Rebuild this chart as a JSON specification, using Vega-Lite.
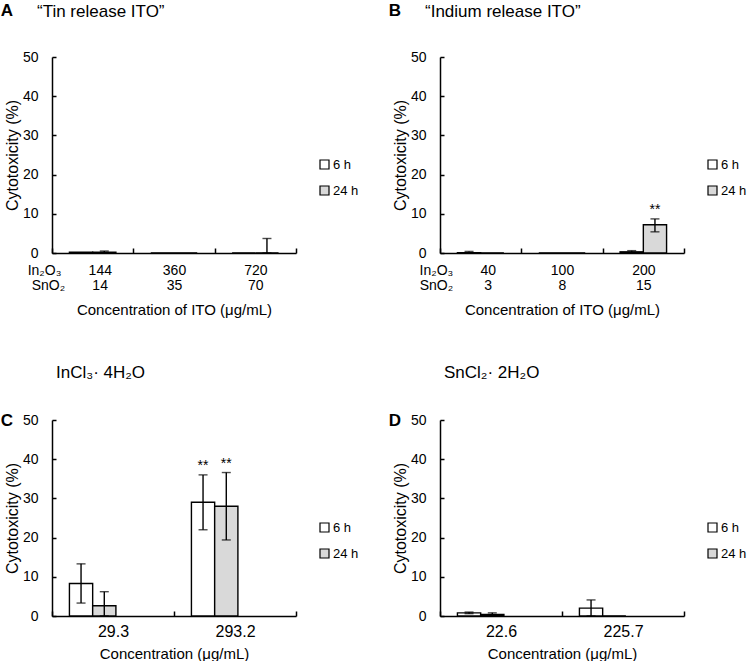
{
  "$schema": "https://vega.github.io/schema/vega-lite/v6.json",
  "background": "white",
  "padding": {"left": 0, "top": 2, "right": 0, "bottom": 0},
  "config": {
    "font": "Liberation Sans",
    "view": {"stroke": null},
    "axis": {"domainColor": "black", "domainWidth": 1.5, "tickColor": "black", "tickWidth": 1.5, "labelColor": "black", "titleColor": "black", "labelFont": "Liberation Sans", "titleFont": "Liberation Sans", "labelFontSize": 14, "titleFontSize": 15, "titleFontWeight": "normal", "grid": false},
    "axisY": {"tickSize": -4, "labelPadding": 18, "titlePadding": 2, "titleFontSize": 16, "labelOverlap": false},
    "title": {"font": "Liberation Sans", "fontSize": 17, "fontWeight": "normal", "color": "black"},
    "legend": {"labelFont": "Liberation Sans", "labelFontSize": 13, "labelColor": "black"}
  },
  "datasets": {
    "a": [
      {"conc": "144|14", "time": "6 h", "value": 0.2},
      {"conc": "144|14", "time": "24 h", "value": 0.2, "lo": 0.1, "hi": 0.5},
      {"conc": "360|35", "time": "6 h", "value": 0},
      {"conc": "360|35", "time": "24 h", "value": 0},
      {"conc": "720|70", "time": "6 h", "value": 0},
      {"conc": "720|70", "time": "24 h", "value": 0, "lo": 0, "hi": 3.7}
    ],
    "b": [
      {"conc": "40|3", "time": "6 h", "value": 0.1, "lo": 0.0, "hi": 0.4},
      {"conc": "40|3", "time": "24 h", "value": 0},
      {"conc": "100|8", "time": "6 h", "value": 0},
      {"conc": "100|8", "time": "24 h", "value": 0},
      {"conc": "200|15", "time": "6 h", "value": 0.3, "lo": 0.1, "hi": 0.6},
      {"conc": "200|15", "time": "24 h", "value": 7.2, "lo": 5.4, "hi": 8.7, "sig": "**"}
    ],
    "c": [
      {"conc": "29.3", "time": "6 h", "value": 8.3, "lo": 3.3, "hi": 13.3},
      {"conc": "29.3", "time": "24 h", "value": 2.6, "lo": 0, "hi": 6.2},
      {"conc": "293.2", "time": "6 h", "value": 29.0, "lo": 22.0, "hi": 36.0, "sig": "**"},
      {"conc": "293.2", "time": "24 h", "value": 28.0, "lo": 19.4, "hi": 36.6, "sig": "**"}
    ],
    "d": [
      {"conc": "22.6", "time": "6 h", "value": 0.8, "lo": 0.6, "hi": 1.0},
      {"conc": "22.6", "time": "24 h", "value": 0.4, "lo": 0.1, "hi": 0.8},
      {"conc": "225.7", "time": "6 h", "value": 2.0, "lo": 0, "hi": 4.1},
      {"conc": "225.7", "time": "24 h", "value": 0}
    ]
  },
  "spacing": 47,
  "resolve": {"legend": {"fill": "independent"}},
  "vconcat": [
    {
      "spacing": 29,
      "resolve": {"legend": {"fill": "independent"}},
      "hconcat": [
        {
          "title": {"text": "A", "orient": "left", "angle": 0, "anchor": "end", "fontWeight": "bold", "fontSize": 17, "offset": -21},
          "resolve": {"legend": {"fill": "independent"}},
          "vconcat": [
            {
              "title": {"text": "“Tin release ITO”", "anchor": "start", "frame": "group", "dx": -15, "offset": 29},
              "width": 244, "height": 196,
              "data": {"name": "a"},
              "encoding": {
                "x": {"field": "conc", "type": "nominal", "sort": null, "scale": {"paddingInner": 0, "paddingOuter": 0},
                  "axis": {"title": "Concentration of ITO (μg/mL)", "labelAngle": 0, "tickBand": "extent", "tickSize": -5, "labelPadding": 15, "labelOverlap": false, "labelBound": false, "labelFlush": false, "labelLineHeight": 15, "titlePadding": 10,
                    "labelExpr": "datum.index == 0 ? ['In₂O₃\u00a0\u00a0\u00a0\u00a0\u00a0\u00a0\u00a0' + split(datum.label,'|')[0] + '\u00a0\u00a0\u00a0\u00a0\u00a0\u00a0\u00a0\u00a0\u00a0\u00a0\u00a0\u00a0\u200b', 'SnO₂\u00a0\u00a0\u00a0\u00a0\u00a0\u00a0\u00a0' + split(datum.label,'|')[1] + '\u00a0\u00a0\u00a0\u00a0\u00a0\u00a0\u00a0\u00a0\u00a0\u00a0\u00a0\u00a0\u200b'] : split(datum.label,'|')"}},
                "xOffset": {"field": "time", "type": "nominal", "sort": ["6 h", "24 h"], "scale": {"domain": ["6 h", "24 h"], "paddingInner": 0, "paddingOuter": 0.75}}
              },
              "layer": [
                {"mark": {"type": "bar", "stroke": "black", "strokeWidth": 1.4},
                 "encoding": {
                   "y": {"field": "value", "type": "quantitative", "title": "Cytotoxicity (%)", "scale": {"domain": [0, 50], "nice": false}, "axis": {"values": [0, 10, 20, 30, 40, 50]}},
                   "fill": {"field": "time", "type": "nominal", "scale": {"domain": ["6 h", "24 h"], "range": ["white", "#d9d9d9"]},
                     "legend": {"title": null, "orient": "none", "legendX": 266, "legendY": 101, "symbolType": "square", "symbolSize": 81, "symbolStrokeColor": "black", "symbolStrokeWidth": 1.2, "rowPadding": 11, "labelOffset": 2, "padding": 0}}
                 }},
                {"transform": [{"filter": "isValid(datum.hi)"}], "mark": {"type": "rule", "color": "black", "strokeWidth": 1.4},
                 "encoding": {"y": {"field": "lo", "type": "quantitative", "title": "Cytotoxicity (%)", "axis": {"values": [0, 10, 20, 30, 40, 50]}}, "y2": {"field": "hi"}}},
                {"transform": [{"filter": "isValid(datum.hi)"}], "mark": {"type": "tick", "color": "black", "size": 9, "thickness": 1.4},
                 "encoding": {"y": {"field": "hi", "type": "quantitative", "title": "Cytotoxicity (%)", "axis": {"values": [0, 10, 20, 30, 40, 50]}}}},
                {"transform": [{"filter": "isValid(datum.hi)"}], "mark": {"type": "tick", "color": "black", "size": 9, "thickness": 1.4},
                 "encoding": {"y": {"field": "lo", "type": "quantitative", "title": "Cytotoxicity (%)", "axis": {"values": [0, 10, 20, 30, 40, 50]}}}},
                {"transform": [{"filter": "isValid(datum.sig)"}], "mark": {"type": "text", "baseline": "bottom", "dy": -2, "fontSize": 14, "color": "black"},
                 "encoding": {"y": {"field": "hi", "type": "quantitative", "title": "Cytotoxicity (%)", "axis": {"values": [0, 10, 20, 30, 40, 50]}}, "text": {"field": "sig"}}}
              ]
            }
          ]
        },
        {
          "title": {"text": "B", "orient": "left", "angle": 0, "anchor": "end", "fontWeight": "bold", "fontSize": 17, "offset": -21},
          "resolve": {"legend": {"fill": "independent"}},
          "vconcat": [
            {
              "title": {"text": "“Indium release ITO”", "anchor": "start", "frame": "group", "dx": -15, "offset": 29},
              "width": 244, "height": 196,
              "data": {"name": "b"},
              "encoding": {
                "x": {"field": "conc", "type": "nominal", "sort": null, "scale": {"paddingInner": 0, "paddingOuter": 0},
                  "axis": {"title": "Concentration of ITO (μg/mL)", "labelAngle": 0, "tickBand": "extent", "tickSize": -5, "labelPadding": 15, "labelOverlap": false, "labelBound": false, "labelFlush": false, "labelLineHeight": 15, "titlePadding": 10,
                    "labelExpr": "datum.index == 0 ? ['In₂O₃\u00a0\u00a0\u00a0\u00a0\u00a0\u00a0\u00a0' + split(datum.label,'|')[0] + '\u00a0\u00a0\u00a0\u00a0\u00a0\u00a0\u00a0\u00a0\u00a0\u00a0\u00a0\u00a0\u200b', 'SnO₂\u00a0\u00a0\u00a0\u00a0\u00a0\u00a0\u00a0\u00a0' + split(datum.label,'|')[1] + '\u00a0\u00a0\u00a0\u00a0\u00a0\u00a0\u00a0\u00a0\u00a0\u00a0\u00a0\u00a0\u00a0\u200b'] : split(datum.label,'|')"}},
                "xOffset": {"field": "time", "type": "nominal", "sort": ["6 h", "24 h"], "scale": {"domain": ["6 h", "24 h"], "paddingInner": 0, "paddingOuter": 0.75}}
              },
              "layer": [
                {"mark": {"type": "bar", "stroke": "black", "strokeWidth": 1.4},
                 "encoding": {
                   "y": {"field": "value", "type": "quantitative", "title": "Cytotoxicity (%)", "scale": {"domain": [0, 50], "nice": false}, "axis": {"values": [0, 10, 20, 30, 40, 50]}},
                   "fill": {"field": "time", "type": "nominal", "scale": {"domain": ["6 h", "24 h"], "range": ["white", "#d9d9d9"]},
                     "legend": {"title": null, "orient": "none", "legendX": 266, "legendY": 101, "symbolType": "square", "symbolSize": 81, "symbolStrokeColor": "black", "symbolStrokeWidth": 1.2, "rowPadding": 11, "labelOffset": 2, "padding": 0}}
                 }},
                {"transform": [{"filter": "isValid(datum.hi)"}], "mark": {"type": "rule", "color": "black", "strokeWidth": 1.4},
                 "encoding": {"y": {"field": "lo", "type": "quantitative", "title": "Cytotoxicity (%)", "axis": {"values": [0, 10, 20, 30, 40, 50]}}, "y2": {"field": "hi"}}},
                {"transform": [{"filter": "isValid(datum.hi)"}], "mark": {"type": "tick", "color": "black", "size": 9, "thickness": 1.4},
                 "encoding": {"y": {"field": "hi", "type": "quantitative", "title": "Cytotoxicity (%)", "axis": {"values": [0, 10, 20, 30, 40, 50]}}}},
                {"transform": [{"filter": "isValid(datum.hi)"}], "mark": {"type": "tick", "color": "black", "size": 9, "thickness": 1.4},
                 "encoding": {"y": {"field": "lo", "type": "quantitative", "title": "Cytotoxicity (%)", "axis": {"values": [0, 10, 20, 30, 40, 50]}}}},
                {"transform": [{"filter": "isValid(datum.sig)"}], "mark": {"type": "text", "baseline": "bottom", "dy": -2, "fontSize": 14, "color": "black"},
                 "encoding": {"y": {"field": "hi", "type": "quantitative", "title": "Cytotoxicity (%)", "axis": {"values": [0, 10, 20, 30, 40, 50]}}, "text": {"field": "sig"}}}
              ]
            }
          ]
        }
      ]
    },
    {
      "spacing": 29,
      "resolve": {"legend": {"fill": "independent"}},
      "hconcat": [
        {
          "title": {"text": "InCl₃· 4H₂O", "anchor": "start", "frame": "group", "dx": 4, "offset": 30},
          "resolve": {"legend": {"fill": "independent"}},
          "vconcat": [
            {
              "title": {"text": "C", "orient": "left", "angle": 0, "anchor": "end", "fontWeight": "bold", "fontSize": 17, "offset": -21},
              "width": 244, "height": 196,
              "data": {"name": "c"},
              "encoding": {
                "x": {"field": "conc", "type": "nominal", "sort": null, "scale": {"paddingInner": 0, "paddingOuter": 0},
                  "axis": {"title": "Concentration (μg/mL)", "labelAngle": 0, "tickBand": "extent", "tickSize": -5, "labelPadding": 12, "labelOverlap": false, "labelFontSize": 16, "titlePadding": 7}},
                "xOffset": {"field": "time", "type": "nominal", "sort": ["6 h", "24 h"], "scale": {"domain": ["6 h", "24 h"], "paddingInner": 0, "paddingOuter": 0.75}}
              },
              "layer": [
                {"mark": {"type": "bar", "stroke": "black", "strokeWidth": 1.4},
                 "encoding": {
                   "y": {"field": "value", "type": "quantitative", "title": "Cytotoxicity (%)", "scale": {"domain": [0, 50], "nice": false}, "axis": {"values": [0, 10, 20, 30, 40, 50]}},
                   "fill": {"field": "time", "type": "nominal", "scale": {"domain": ["6 h", "24 h"], "range": ["white", "#d9d9d9"]},
                     "legend": {"title": null, "orient": "none", "legendX": 266, "legendY": 101, "symbolType": "square", "symbolSize": 81, "symbolStrokeColor": "black", "symbolStrokeWidth": 1.2, "rowPadding": 11, "labelOffset": 2, "padding": 0}}
                 }},
                {"transform": [{"filter": "isValid(datum.hi)"}], "mark": {"type": "rule", "color": "black", "strokeWidth": 1.4},
                 "encoding": {"y": {"field": "lo", "type": "quantitative", "title": "Cytotoxicity (%)", "axis": {"values": [0, 10, 20, 30, 40, 50]}}, "y2": {"field": "hi"}}},
                {"transform": [{"filter": "isValid(datum.hi)"}], "mark": {"type": "tick", "color": "black", "size": 9, "thickness": 1.4},
                 "encoding": {"y": {"field": "hi", "type": "quantitative", "title": "Cytotoxicity (%)", "axis": {"values": [0, 10, 20, 30, 40, 50]}}}},
                {"transform": [{"filter": "isValid(datum.hi)"}], "mark": {"type": "tick", "color": "black", "size": 9, "thickness": 1.4},
                 "encoding": {"y": {"field": "lo", "type": "quantitative", "title": "Cytotoxicity (%)", "axis": {"values": [0, 10, 20, 30, 40, 50]}}}},
                {"transform": [{"filter": "isValid(datum.sig)"}], "mark": {"type": "text", "baseline": "bottom", "dy": -2, "fontSize": 14, "color": "black"},
                 "encoding": {"y": {"field": "hi", "type": "quantitative", "title": "Cytotoxicity (%)", "axis": {"values": [0, 10, 20, 30, 40, 50]}}, "text": {"field": "sig"}}}
              ]
            }
          ]
        },
        {
          "title": {"text": "SnCl₂· 2H₂O", "anchor": "start", "frame": "group", "dx": 4, "offset": 30},
          "resolve": {"legend": {"fill": "independent"}},
          "vconcat": [
            {
              "title": {"text": "D", "orient": "left", "angle": 0, "anchor": "end", "fontWeight": "bold", "fontSize": 17, "offset": -21},
              "width": 244, "height": 196,
              "data": {"name": "d"},
              "encoding": {
                "x": {"field": "conc", "type": "nominal", "sort": null, "scale": {"paddingInner": 0, "paddingOuter": 0},
                  "axis": {"title": "Concentration (μg/mL)", "labelAngle": 0, "tickBand": "extent", "tickSize": -5, "labelPadding": 12, "labelOverlap": false, "labelFontSize": 16, "titlePadding": 7}},
                "xOffset": {"field": "time", "type": "nominal", "sort": ["6 h", "24 h"], "scale": {"domain": ["6 h", "24 h"], "paddingInner": 0, "paddingOuter": 0.75}}
              },
              "layer": [
                {"mark": {"type": "bar", "stroke": "black", "strokeWidth": 1.4},
                 "encoding": {
                   "y": {"field": "value", "type": "quantitative", "title": "Cytotoxicity (%)", "scale": {"domain": [0, 50], "nice": false}, "axis": {"values": [0, 10, 20, 30, 40, 50]}},
                   "fill": {"field": "time", "type": "nominal", "scale": {"domain": ["6 h", "24 h"], "range": ["white", "#d9d9d9"]},
                     "legend": {"title": null, "orient": "none", "legendX": 266, "legendY": 101, "symbolType": "square", "symbolSize": 81, "symbolStrokeColor": "black", "symbolStrokeWidth": 1.2, "rowPadding": 11, "labelOffset": 2, "padding": 0}}
                 }},
                {"transform": [{"filter": "isValid(datum.hi)"}], "mark": {"type": "rule", "color": "black", "strokeWidth": 1.4},
                 "encoding": {"y": {"field": "lo", "type": "quantitative", "title": "Cytotoxicity (%)", "axis": {"values": [0, 10, 20, 30, 40, 50]}}, "y2": {"field": "hi"}}},
                {"transform": [{"filter": "isValid(datum.hi)"}], "mark": {"type": "tick", "color": "black", "size": 9, "thickness": 1.4},
                 "encoding": {"y": {"field": "hi", "type": "quantitative", "title": "Cytotoxicity (%)", "axis": {"values": [0, 10, 20, 30, 40, 50]}}}},
                {"transform": [{"filter": "isValid(datum.hi)"}], "mark": {"type": "tick", "color": "black", "size": 9, "thickness": 1.4},
                 "encoding": {"y": {"field": "lo", "type": "quantitative", "title": "Cytotoxicity (%)", "axis": {"values": [0, 10, 20, 30, 40, 50]}}}},
                {"transform": [{"filter": "isValid(datum.sig)"}], "mark": {"type": "text", "baseline": "bottom", "dy": -2, "fontSize": 14, "color": "black"},
                 "encoding": {"y": {"field": "hi", "type": "quantitative", "title": "Cytotoxicity (%)", "axis": {"values": [0, 10, 20, 30, 40, 50]}}, "text": {"field": "sig"}}}
              ]
            }
          ]
        }
      ]
    }
  ]
}
